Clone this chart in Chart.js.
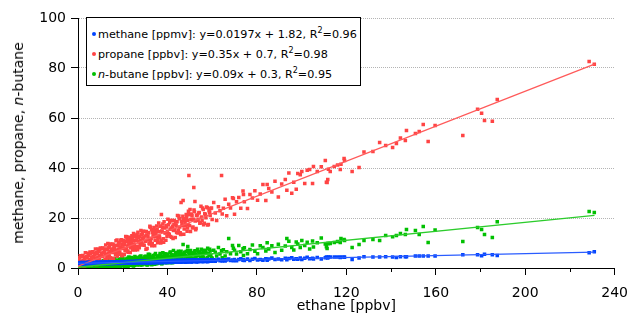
<!DOCTYPE html>
<html>
<head>
<meta charset="utf-8">
<script src="https://cdn.jsdelivr.net/npm/chart.js@4.4.1/dist/chart.umd.min.js"></script>
<style>
  body { margin: 0; background: #fff; }
  #wrap { position: relative; width: 638px; height: 321px; font-family: "DejaVu Sans", sans-serif; }
  #leyenda {
    position: absolute; left: 86px; top: 17px; width: 273px; height: 67px;
    border: 1px solid #000; background: #fff; box-sizing: content-box;
    font-size: 11.2px; color: #000;
  }
  #leyenda .fila { height: 20px; line-height: 20px; white-space: nowrap; padding-left: 5px; }
  #leyenda .fila:first-child { margin-top: 7px; }
  #leyenda .punto { display: inline-block; width: 4px; height: 4px; border-radius: 50%; margin-right: 2px; vertical-align: middle; position: relative; top: -1px; }
  #leyenda sup { font-size: 8px; vertical-align: 5px; line-height: 0; }
  #tituloY {
    position: absolute; left: 18px; top: 143px; font-size: 14px; white-space: nowrap;
    transform: translate(-50%, -50%) rotate(-90deg); color: #000;
  }
</style>
</head>
<body>
<div id="wrap">
  <canvas id="grafica" width="638" height="321" style="width:638px;height:321px"></canvas>
  <div id="leyenda"></div>
  <div id="tituloY"></div>
</div>
<script>
// ── Datos (una muestra por posición) ────────────────────────────────────────
const ethane = [
  0.2,0.5,0.7,1.0,1.2,1.5,1.8,2.0,2.3,2.5, 2.8,3.1,3.3,3.6,3.9,4.1,4.4,4.6,4.9,5.2,
  5.4,5.7,6.0,6.2,6.5,6.8,7.0,7.3,7.6,7.8, 8.1,8.4,8.6,8.9,9.2,9.4,9.7,10.0,10.3,10.5,
  10.8,11.1,11.3,11.6,11.9,12.1,12.4,12.7,12.9,13.2, 13.5,13.8,14.0,14.3,14.6,14.8,15.1,15.4,15.7,15.9,
  16.2,16.5,16.8,17.0,17.3,17.6,17.9,18.1,18.4,18.7, 19.0,19.3,19.5,19.8,20.1,20.4,20.7,20.9,21.2,21.5,
  21.8,22.1,22.4,22.6,22.9,23.2,23.5,23.8,24.1,24.4, 24.7,25.0,25.3,25.6,25.9,26.2,26.5,26.8,27.1,27.4,
  27.7,28.0,28.3,28.6,28.9,29.2,29.6,29.9,
  30.2,30.6,30.9,31.3,31.6,32.0,32.3,32.7,33.0,33.4, 33.8,34.1,34.5,34.8,35.2,35.6,35.9,36.3,36.7,37.0,
  37.3,37.4,37.8,38.1,38.5,38.9,39.3,39.6,40.0,40.4, 40.8,41.2,41.5,41.9,42.3,42.7,43.1,43.5,43.9,44.3,
  44.7,45.1,45.5,45.9,46.1,46.3,46.7,47.0,47.1,47.5, 47.9,48.4,48.8,49.1,49.2,49.6,49.7,50.1,50.3,50.5,
  51.0,51.4,51.8,51.9,52.3,52.4,52.8,53.3,53.7,54.2, 54.7,55.2,55.7,56.2,56.7,57.2,57.8,58.3,58.9,59.4,
  60.0,
  60.7,61.4,62.0,62.8,63.5,64.2,64.5,65.0,65.8,66.5, 67.4,68.2,69.1,69.5,70.0,70.9,71.9,72.8,73.8,74.0,
  74.4,75.8,76.9,78.0,79.1,80.3,81.5,82.7,84.0,84.6, 85.3,86.7,88.1,89.6,91.1,92.7,93.4,94.3,95.6,96.5,
  97.6,98.3,99.4,100.1,101.4,102.5,103.6,104.9,105.3,107.0, 108.8,110.6,111.1,
  111.4,111.7,112.0,112.8,114.6,116.1,117.3,117.6,119.0,119.2, 122.6,125.7,127.9,131.9,134.9,137.6,140.7,142.4,144.2,146.4,
  146.9,150.9,152.6,154.4,156.6,159.7,
  172.1,178.7,180.5,181.8,185.3,187.5,228.6,230.9,
  0.35,0.85,1.35,1.65,2.15,2.65,2.95,3.45,3.75,4.25, 4.75,5.05,5.55,5.85,6.35,6.65,7.15,7.45,7.95,8.25,
  8.75,9.05,9.55,9.85,10.15,10.65,10.95,11.45,11.75,12.25, 12.55,13.05,13.35,13.65,14.15,14.45,14.95,15.25,15.55,16.05,
  16.35,16.65,17.15,17.45,17.75,18.25,18.55,18.85,19.15,19.65, 19.95,20.25,20.55,21.05,21.35,21.65,21.95,22.25,22.75,23.05,
  23.35,23.65,23.95,24.25,24.55,24.85,25.15,25.45,25.75,26.05, 26.35,26.65,26.95,27.25,27.55,27.85,28.15,28.45,28.75,29.05,
  29.45,29.75,30.4,30.75,31.1,31.45,31.8,32.15,32.5,32.85, 33.2,33.6,33.95,34.3,34.65,35.0,35.4,35.75,36.1,36.5,
  36.85,37.2,37.6,37.95,38.3,38.7,39.1,39.45,39.8,40.2, 40.6,41.0,41.35,41.7,42.1,42.5,42.9,43.3,43.7,44.1,
  44.5,44.9,45.3,45.7,46.5,46.9,47.3,47.7,48.1,48.6, 49.0,49.4,49.9,50.7,51.2,51.6,52.1,52.6,53.0,53.5,
  54.0,54.5,55.0,55.5,56.0,56.5,57.0,57.5,58.0,58.6, 59.1,59.7
];
const propane = [
  3.5,0.8,1.8,4.9,1.0,2.8,1.4,4.7,1.2,3.0, 4.2,1.0,6.1,2.4,1.5,4.2,2.8,5.0,1.6,3.4,
  6.4,1.4,4.4,3.0,6.3,1.6,4.6,5.8,2.1,7.6, 3.9,1.4,5.8,4.4,6.6,3.2,5.0,8.0,2.3,6.0,
  4.6,7.9,2.2,6.2,7.4,3.6,9.2,5.5,3.0,7.4, 6.0,8.2,4.8,6.6,9.6,3.9,7.6,6.2,9.5,3.8,
  7.8,9.0,5.3,10.9,7.2,4.7,9.1,7.6,9.8,6.4, 8.3,11.3,5.5,9.2,7.8,11.1,5.4,9.4,10.6,6.9,
  12.5,8.8,6.3,10.7,9.3,11.5,8.1,9.9,12.9,7.2, 10.9,9.6,12.9,7.2,11.2,12.4,8.7,14.3,10.6,8.1,
  12.5,11.1,13.3,9.9,11.7,14.7,9.1,12.8,
  10.7,14.6,7.8,12.7,14.1,9.6,16.3,11.9,8.9,14.2, 12.5,15.1,11.1,13.3,16.8,10.1,14.5,12.8,16.7,10.0,
  21.4,14.8,16.2,11.7,18.5,14.1,11.1,16.4,14.7,17.3, 13.3,15.5,19.0,12.3,16.7,15.0,19.0,12.2,17.1,18.5,
  14.0,20.8,16.4,13.4,26.2,18.7,17.0,27.0,19.7,15.6, 17.9,21.4,14.7,19.1,17.3,37.0,21.3,23.4,14.6,19.4,
  20.9,16.4,32.2,23.2,26.6,18.8,15.8,21.2,19.5,22.2, 18.1,20.4,24.0,17.3,21.7,20.1,24.1,17.4,22.3,23.8,
  19.4,
  26.2,22.0,19.0,24.5,22.9,37.0,21.6,23.9,27.5,20.9, 25.5,24.0,28.1,27.8,21.5,26.5,28.2,23.9,30.8,29.4,
  26.5,23.8,29.4,28.0,30.9,27.1,29.6,33.4,27.0,33.4, 31.8,30.4,34.7,28.4,33.6,35.4,31.1,38.0,29.9,34.3,
  31.5,37.8,37.3,38.6,33.8,39.1,39.4,33.8,40.6,38.6, 40.5,43.0,34.3,
  34.2,35.4,39.5,38.6,40.6,41.2,39.4,41.5,43.8,43.0, 38.6,40.2,46.4,46.6,50.2,49.0,48.2,49.8,52.0,51.0,
  55.0,53.8,54.6,57.4,50.6,57.0,
  53.0,63.5,61.9,59.0,58.7,67.4,82.6,81.5,
  0.9,4.1,1.1,2.4,5.0,0.9,3.6,2.1,4.5,1.1, 5.9,2.0,5.7,1.3,4.0,6.5,1.5,5.2,3.7,6.1,
  2.7,7.6,3.5,7.3,2.6,5.5,8.0,2.0,6.7,5.2, 7.6,4.2,9.8,5.0,8.8,4.1,7.0,9.5,3.4,8.2,
  6.6,9.0,5.6,11.2,6.4,10.2,5.5,8.4,10.9,4.9, 9.6,8.0,10.4,7.0,12.6,7.8,11.5,6.8,9.8,12.3,
  6.2,10.9,9.3,11.7,8.2,13.8,9.0,12.7,8.0,10.9, 13.4,7.3,12.0,10.4,12.8,9.3,15.0,10.2,13.9,9.2,
  12.1,14.6,7.5,13.2,11.2,14.1,9.9,16.7,10.9,15.3, 9.7,13.2,16.2,8.9,14.5,12.6,15.5,11.3,18.0,12.3,
  16.7,11.1,14.6,17.6,10.3,16.0,14.0,16.9,12.7,19.5, 13.7,18.2,12.6,16.0,19.0,11.8,17.4,15.5,18.4,14.2,
  21.0,15.2,19.7,14.1,17.7,20.7,13.5,19.1,17.1,20.1, 16.0,22.7,17.0,21.6,16.0,19.5,22.5,15.3,21.0,19.0,
  22.0,17.9,24.7,18.9,23.4,17.9,21.4,24.4,17.2,22.9, 21.0,24.0
];
const butane = [
  0.9,-0.2,0.5,1.5,0.0,-0.1,1.2,0.8,-0.1,1.8, 0.3,1.1,0.0,1.3,-0.2,0.8,1.8,0.3,-0.3,1.5,
  1.1,0.2,2.1,0.6,1.4,-0.3,1.6,0.1,1.1,2.1, 0.6,0.0,1.8,1.4,0.5,2.4,1.0,1.7,0.0,2.1,
  0.1,1.5,2.9,0.7,0.1,2.5,1.8,0.5,3.3,1.2, 2.2,0.2,2.5,0.4,1.8,3.2,1.1,0.2,2.8,2.1,
  0.9,3.6,1.5,2.5,0.2,2.8,0.7,2.1,3.6,1.4, 0.5,3.1,2.5,1.2,3.9,1.8,2.9,0.5,3.1,1.0,
  2.5,3.9,1.7,0.8,3.5,2.8,1.5,4.2,2.2,3.2, 0.8,3.5,1.4,2.8,4.2,2.1,1.2,3.8,3.1,1.9,
  4.6,2.5,3.5,1.2,3.8,1.7,3.2,4.6,
  2.3,1.3,4.4,3.6,2.0,5.4,2.8,4.0,1.3,4.4, 1.9,3.6,5.3,2.7,1.7,4.8,4.0,2.5,5.8,3.2,
  4.5,1.7,4.8,2.3,4.0,5.7,3.1,2.1,5.2,4.4, 2.9,6.2,3.6,4.9,2.1,7.0,2.8,4.4,6.2,3.6,
  2.5,5.7,4.9,3.3,6.7,4.1,5.3,9.4,5.6,3.2, 4.8,6.6,4.0,8.6,2.9,6.1,5.3,3.7,7.0,4.4,
  5.7,2.9,6.1,3.6,5.2,6.9,4.4,3.3,6.4,5.7, 4.1,7.5,4.9,6.2,3.4,6.6,4.1,5.8,7.5,5.0,
  3.9,
  7.1,6.3,4.8,8.2,5.6,6.9,4.1,7.3,4.8,6.5, 11.8,5.7,9.0,7.9,7.1,5.6,9.0,6.5,7.7,5.0,
  8.1,5.7,7.4,9.2,6.7,5.7,8.9,8.2,6.8,10.1, 7.6,8.9,6.2,9.5,7.1,8.8,11.8,10.7,8.2,7.2,
  10.4,9.6,8.2,11.0,9.0,10.3,7.6,10.8,8.4,10.1, 12.0,9.6,8.5,
  7.8,9.8,9.8,9.8,10.2,10.6,10.2,11.8,11.4,11.0, 8.2,9.4,11.0,11.4,11.0,13.0,12.5,13.0,13.8,13.4,
  15.4,15.0,13.4,16.6,10.2,15.2,
  10.6,16.2,15.4,13.4,12.2,18.5,22.6,22.2,
  -0.2,1.4,0.6,-0.3,1.9,0.4,1.3,-0.3,1.1,0.1, 1.7,1.0,-0.3,2.2,0.7,1.6,0.0,1.4,0.5,2.0,
  1.3,0.0,2.6,1.0,2.2,0.0,1.9,0.5,2.8,1.7, 0.2,3.5,1.3,2.5,0.3,2.2,0.9,3.1,2.0,0.1,
  3.8,1.6,2.8,0.6,2.5,1.1,3.4,2.3,0.4,4.1, 1.9,3.1,0.9,2.8,1.4,3.6,2.6,0.7,4.4,2.2,
  3.4,1.1,3.1,1.7,3.9,2.8,1.0,4.6,2.4,3.6, 1.4,3.3,1.9,4.2,3.1,1.2,4.8,2.7,3.9,1.6,
  3.6,2.2,4.7,3.5,1.2,5.5,3.0,4.4,1.6,4.0, 2.3,5.0,3.8,1.5,5.8,3.3,4.7,1.9,4.3,2.6,
  5.3,4.1,1.8,6.1,3.6,5.0,2.2,4.6,2.9,5.6, 4.4,2.1,6.4,3.9,5.3,2.5,4.9,3.2,5.9,4.7,
  2.4,6.7,4.2,5.6,2.9,5.2,3.6,6.3,5.0,2.8, 7.1,4.5,6.0,3.3,5.6,3.9,6.7,5.4,3.2,7.5,
  5.0,6.4,3.7,6.0,4.3,7.1,5.8,3.6,7.9,5.4, 6.8,4.1
];
const methane = [
  2.0,1.5,1.9,2.2,1.7,1.85,1.6,2.1,1.6,2.0, 2.2,1.7,1.89,1.6,2.1,1.6,2.0,2.3,1.8,1.92,
  1.7,2.1,1.6,2.0,2.3,1.8,1.96,1.7,2.2,1.7, 2.1,2.3,1.8,2.0,1.75,2.2,1.7,2.1,2.4,1.9,
  2.03,1.8,2.2,1.75,2.15,2.4,1.9,2.07,1.8,2.3, 1.8,2.2,2.45,1.95,2.11,1.85,2.3,1.8,2.2,2.5,
  2.0,2.14,1.9,2.35,1.86,2.27,2.5,2.0,2.18,1.94, 2.4,1.9,2.3,2.56,2.07,2.22,1.98,2.43,1.94,2.34,
  2.6,2.1,2.26,2.02,2.47,1.98,2.38,2.64,2.14,2.3, 2.06,2.51,2.02,2.42,2.68,2.19,2.34,2.1,2.55,2.06,
  2.47,2.72,2.23,2.38,2.14,2.6,2.1,2.51,
  2.83,2.24,2.43,2.14,2.68,2.09,2.58,2.88,2.29,2.48, 2.19,2.73,2.14,2.63,2.93,2.34,2.53,2.24,2.78,2.19,
  2.67,2.98,2.38,2.57,2.28,2.83,2.23,2.72,3.03,2.44, 2.62,2.33,2.88,2.29,2.77,3.08,2.49,2.68,2.38,2.93,
  2.34,2.83,3.14,2.54,2.73,2.43,2.98,2.39,2.87,3.18, 2.58,2.77,2.48,3.03,2.43,2.92,3.22,2.63,2.81,2.51,
  3.06,2.47,2.96,3.26,2.67,2.85,2.56,3.11,2.52,3.01, 3.32,2.73,2.92,2.63,3.18,2.59,3.08,3.39,2.8,2.99,
  2.7,
  3.26,2.67,3.16,3.48,2.89,3.08,2.79,3.34,2.76,3.25, 3.57,2.98,3.18,2.89,3.44,2.86,3.36,3.67,3.09,3.28,
  2.99,3.55,2.97,3.48,3.8,3.22,3.43,3.15,3.71,3.13, 3.62,3.95,3.38,3.59,3.31,3.89,3.3,3.8,4.12,3.54,
  3.74,3.46,4.02,3.43,3.94,4.26,3.68,3.89,3.59,4.17, 3.6,4.12,4.43,
  4.2,4.0,4.4,4.4,4.4,4.4,4.2,4.4,4.4,4.3, 3.4,4.0,4.5,4.4,4.4,4.5,4.4,4.2,4.5,4.5,
  4.5,4.8,4.8,4.8,4.8,4.8,
  5.3,5.3,4.9,5.5,5.3,5.0,6.1,6.5,
  1.63,2.09,1.9,1.5,2.16,1.67,2.13,1.94,1.54,2.2, 1.71,2.17,1.98,1.59,2.25,1.75,2.21,2.02,1.63,2.28,
  1.79,2.25,2.06,1.66,2.32,1.83,2.29,2.1,1.7,2.36, 1.87,2.33,2.13,1.74,2.4,1.9,2.36,2.17,1.78,2.44,
  1.94,2.4,2.21,1.81,2.47,1.98,2.44,2.24,1.85,2.51, 2.01,2.47,2.27,1.88,2.54,2.05,2.5,2.31,1.92,2.57,
  2.08,2.54,2.34,1.95,2.6,2.11,2.57,2.37,1.98,2.63, 2.14,2.59,2.4,2.01,2.66,2.17,2.62,2.43,2.04,2.69,
  2.2,2.66,2.48,2.01,2.79,2.2,2.75,2.51,2.04,2.83, 2.23,2.78,2.55,2.08,2.86,2.27,2.82,2.58,2.11,2.9,
  2.31,2.85,2.62,2.15,2.93,2.34,2.89,2.66,2.18,2.97, 2.38,2.93,2.69,2.22,3.01,2.42,2.97,2.73,2.26,3.05,
  2.46,3.0,2.77,2.3,3.1,2.5,3.05,2.82,2.35,3.14, 2.55,3.09,2.86,2.4,3.19,2.6,3.15,2.92,2.44,3.23,
  2.64,3.19,2.96,2.49,3.28,2.69,3.24,3.01,2.54,3.33, 2.74,3.28
];

// Series y ajustes lineales (leyenda)
const seriesNames = ['methane', 'propane', 'n-butane'];
const seriesUnits = ['ppmv', 'ppbv', 'ppbv'];
const fitSlope = [0.0197, 0.35, 0.09];
const fitIntercept = [1.82, 0.7, 0.3];
const fitR2 = [0.96, 0.98, 0.95];
const fitRange = [0, 231];
const pointColors = ['#0044ff', '#ff4444', '#00c000'];
const lineColors = ['#2a5cff', '#ff5a5a', '#2ccc2c'];
const xMinorTicks = [20, 60, 100, 140, 180, 220];

const seriesValues = [methane, propane, butane];

// ── Leyenda y título del eje Y en HTML (cursiva y superíndice) ─────────────
const italN = s => s.replace(/^n-/, '<i>n</i>-').replace(/, n-/, ', <i>n</i>-');
document.getElementById('leyenda').innerHTML = seriesNames.map((n, i) =>
  `<div class="fila"><span class="punto" style="background:${pointColors[i]}"></span>` +
  `${italN(n)} [${seriesUnits[i]}]: y=${fitSlope[i]}x + ${fitIntercept[i]}, R<sup>2</sup>=${fitR2[i]}</div>`
).join('');
document.getElementById('tituloY').innerHTML = italN(seriesNames.join(', '));

// ── Marcas menores del eje X ────────────────────────────────────────────────
const marcasMenores = {
  id: 'marcasMenores',
  afterDraw(chart) {
    const { ctx, chartArea, scales: { x } } = chart;
    ctx.save();
    ctx.strokeStyle = '#000';
    ctx.lineWidth = 1;
    xMinorTicks.forEach(v => {
      const px = Math.round(x.getPixelForValue(v)) + 0.5;
      ctx.beginPath();
      ctx.moveTo(px, chartArea.bottom);
      ctx.lineTo(px, chartArea.bottom + 4);
      ctx.stroke();
    });
    ctx.restore();
  }
};

const fuente = { family: 'DejaVu Sans, sans-serif', size: 14 };

const datasetsAjuste = seriesNames.map((n, i) => ({
  label: n + ' fit',
  data: fitRange.map(x => ({ x, y: fitSlope[i] * x + fitIntercept[i] })),
  showLine: true,
  borderColor: lineColors[i],
  borderWidth: 1.3,
  pointRadius: 0,
  fill: false,
}));

const datasetsPuntos = seriesNames.map((n, i) => ({
  label: n,
  data: ethane.map((x, k) => ({ x, y: seriesValues[i][k] })),
  pointStyle: 'rect',
  pointRadius: 2.5,
  borderWidth: 0,
  backgroundColor: pointColors[i],
  showLine: false,
}));

new Chart(document.getElementById('grafica'), {
  type: 'scatter',
  data: { datasets: [...datasetsAjuste, ...datasetsPuntos] },
  options: {
    responsive: false,
    devicePixelRatio: 1,
    animation: false,
    layout: { padding: { top: 18, right: 17, left: 0, bottom: 0 } },
    plugins: { legend: { display: false }, tooltip: { enabled: false } },
    scales: {
      x: {
        type: 'linear',
        min: 0, max: 240,
        afterFit: s => { s.height = 53; },
        ticks: { stepSize: 40, color: '#000', font: fuente, padding: 10, maxRotation: 0 },
        grid: { drawOnChartArea: false, color: '#000', tickLength: 7 },
        border: { color: '#000', width: 1 },
        title: { display: true, text: 'ethane [ppbv]', color: '#000', font: fuente, padding: { top: 0, bottom: 6 } },
      },
      y: {
        min: 0, max: 100,
        afterFit: s => { s.width = 78; },
        ticks: { stepSize: 20, color: '#000', font: fuente, padding: 5 },
        grid: {
          color: c => (c.tick && c.tick.value === 0) ? 'rgba(0,0,0,0)' : '#b4b4b4',
          tickColor: '#000',
          tickLength: 7,
          tickBorderDash: [],
        },
        border: { color: '#000', width: 1, dash: [1, 1] },
      },
    },
  },
  plugins: [marcasMenores],
});
</script>
</body>
</html>
